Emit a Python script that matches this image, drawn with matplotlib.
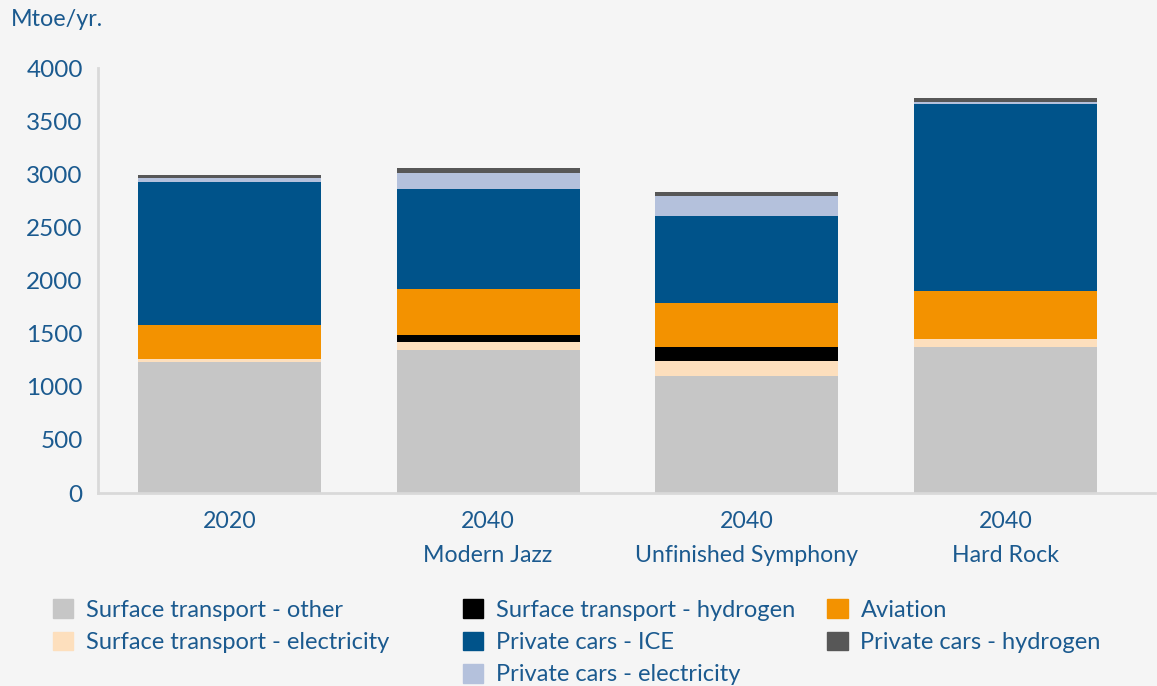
import matplotlib.pyplot as plt
from matplotlib.patches import Patch

# Data (Mtoe/yr)
scenarios = ["2020", "2040\nModern Jazz", "2040\nUnfinished Symphony", "2040\nHard Rock"]
surface_other = [1236, 1349, 1104, 1377]
surface_electricity = [28, 75, 142, 75]
surface_hydrogen = [0, 66, 132, 0]
aviation = [321, 434, 406, 453]
cars_ice = [1340, 934, 821, 1755]
cars_electricity = [38, 157, 189, 19]
cars_hydrogen = [28, 41, 38, 38]

series = [
    ("Surface transport - other", surface_other, "#c6c6c6"),
    ("Surface transport - electricity", surface_electricity, "#fddfbd"),
    ("Surface transport - hydrogen", surface_hydrogen, "#000000"),
    ("Aviation", aviation, "#f39200"),
    ("Private cars - ICE", cars_ice, "#00538a"),
    ("Private cars - electricity", cars_electricity, "#b4c1dc"),
    ("Private cars - hydrogen", cars_hydrogen, "#575757"),
]

TEXT = "#1b5a8f"
BG = "#f5f5f5"
plt.rcParams["font.family"] = ["Lato", "DejaVu Sans"]

fig = plt.figure(figsize=(11.57, 6.86), dpi=100, facecolor=BG)
ax = fig.add_axes([0.0847, 0.2813, 0.914, 0.6195])
ax.set_facecolor(BG)

x = range(len(scenarios))
bottom = [0] * len(scenarios)
for name, vals, color in series:
    ax.bar(x, vals, width=0.707, bottom=bottom, color=color, label=name)
    bottom = [b + v for b, v in zip(bottom, vals)]

ax.set_ylim(0, 4000)
ax.set_xlim(-0.508, 3.58)
ax.set_yticks(range(0, 4001, 500))
ax.set_xticks(list(x))
ax.set_xticklabels(scenarios, linespacing=1.75)
ax.tick_params(axis="both", length=0, colors=TEXT)
ax.tick_params(axis="y", pad=11, labelsize=17.5)
ax.tick_params(axis="x", pad=13, labelsize=16.7)
for side in ["top", "right"]:
    ax.spines[side].set_visible(False)
for side in ["left", "bottom"]:
    ax.spines[side].set_color("#d9d9d9")
    ax.spines[side].set_linewidth(2)

fig.text(0.009, 0.972, "Mtoe/yr.", color=TEXT, fontsize=16.8, va="center", ha="left")

# Legend: three columns placed by hand
handles = {name: Patch(color=color) for name, _, color in series}
columns = [
    (0.038, ["Surface transport - other", "Surface transport - electricity"]),
    (0.392, ["Surface transport - hydrogen", "Private cars - ICE", "Private cars - electricity"]),
    (0.707, ["Aviation", "Private cars - hydrogen"]),
]
for xpos, names in columns:
    leg = fig.legend([handles[n] for n in names], names, loc="upper left",
                     frameon=False, fontsize=17, handlelength=0.85, handleheight=0.85,
                     handletextpad=0.55, labelspacing=0.45, borderaxespad=0)
    leg.set_bbox_to_anchor((xpos, 0.14), transform=fig.transFigure)
    for t in leg.get_texts():
        t.set_color(TEXT)

fig.savefig("out.png", dpi=100, facecolor=BG)
